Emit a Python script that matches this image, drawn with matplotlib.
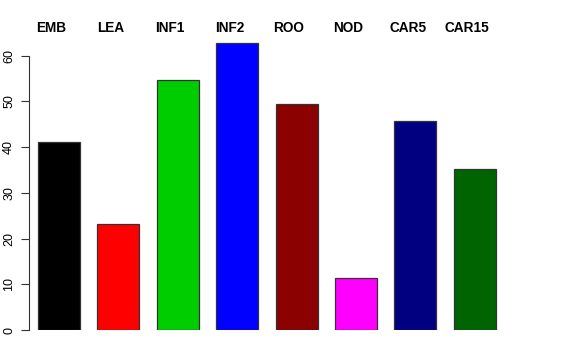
import matplotlib
matplotlib.use("Agg")
import matplotlib.pyplot as plt
import numpy as np

# sample groups and their values
groups = ["EMB", "LEA", "INF1", "INF2", "ROO", "NOD", "CAR5", "CAR15"]
values = [41.1, 23.2, 54.7, 62.8, 49.5, 11.4, 45.7, 35.2]
colors = ["#000000", "#FF0000", "#00CD00", "#0000FF",
          "#8B0000", "#FF00FF", "#000080", "#006400"]
yticks = [0, 10, 20, 30, 40, 50, 60]

plt.rcParams['font.family'] = ['Liberation Sans', 'DejaVu Sans']

W, H = 576, 360
fig = plt.figure(figsize=(W / 100, H / 100), dpi=100)
# axes box in pixels: left 29, right 520, top 42, bottom 330
ax = fig.add_axes([29 / W, (H - 330) / H, (520 - 29) / W, (330 - 42) / H])

x = np.arange(len(groups))
ax.bar(x, values, width=0.707, color=colors, edgecolor="#333333", linewidth=0.9)

ax.set_xlim(-0.505, 7.76)
ax.set_ylim(0, 63)
ax.set_xticks([])
ax.set_yticks(yticks)
ax.set_yticklabels([str(t) for t in yticks], rotation=90, va="center", fontsize=9)
ax.tick_params(axis="y", length=6, width=0.8, color="#333333", pad=4)
ax.spines["left"].set_bounds(0, 60)
ax.spines["left"].set_color("#333333")
for s in ["top", "right", "bottom"]:
    ax.spines[s].set_visible(False)

# group labels along the top, centred at about 28 px from the top
label_y = (330 - 28) / (330 - 42)
for i, g in enumerate(groups):
    ax.text(i - 0.13, label_y, g, transform=ax.get_xaxis_transform(),
            ha="center", va="center", fontsize=9.8, fontweight="bold")

fig.savefig("out.png", dpi=100)
